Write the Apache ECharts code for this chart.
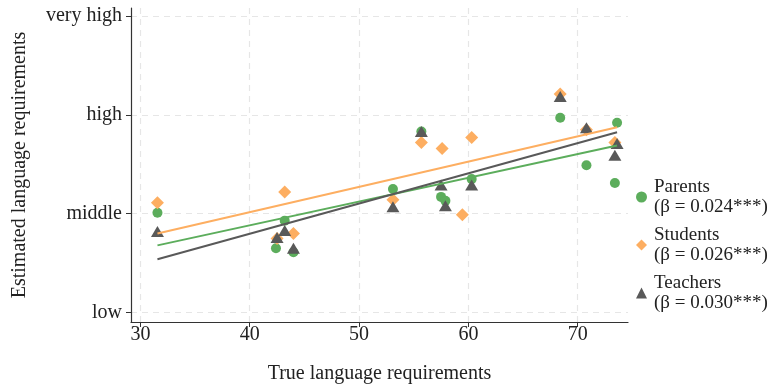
<!DOCTYPE html>
<html>
<head>
<meta charset="utf-8">
<script src="https://cdn.jsdelivr.net/npm/echarts@6/dist/echarts.min.js"></script>
<style>
  html, body { margin: 0; padding: 0; background: #fff; }
  #main { width: 774px; height: 386px; }
</style>
</head>
<body>
<div id="main"></div>
<script>
// 数据: [true requirement, estimated requirement]
var parents = [
  [31.56, 2.01], [42.4, 1.65], [43.2, 1.93], [44.0, 1.61], [53.1, 2.25],
  [55.7, 2.83], [57.5, 2.17], [57.9, 2.13], [60.3, 2.35], [68.4, 2.97],
  [70.8, 2.49], [73.6, 2.92], [73.4, 2.31]
];
var students = [
  [31.56, 2.11], [42.5, 1.75], [43.2, 2.22], [44.0, 1.80], [53.1, 2.14],
  [55.7, 2.72], [57.6, 2.66], [59.45, 1.99], [60.3, 2.77], [68.4, 3.21],
  [70.8, 2.85], [73.4, 2.72]
];
var teachers = [
  [31.56, 1.82], [42.5, 1.76], [43.2, 1.83], [44.0, 1.65], [53.1, 2.07],
  [55.7, 2.83], [57.5, 2.29], [57.9, 2.08], [60.3, 2.29], [68.4, 3.185],
  [70.8, 2.87], [73.6, 2.71], [73.4, 2.59]
];
// 拟合线端点
var fitX = [31.56, 73.6];
var fitParents = [1.68, 2.69];
var fitStudents = [1.80, 2.875];
var fitTeachers = [1.54, 2.824];

var groupNames = ["Parents", "Students", "Teachers"];
var betas = ["0.024***", "0.026***", "0.030***"];
var xTicks = [30, 40, 50, 60, 70];
var yTicks = [1, 2, 3, 4];
var yLabels = ["low", "middle", "high", "very high"];

var colGreen = "#5cad5c";
var colOrange = "#fdae61";
var colDark = "#595959";
var font = "Liberation Serif";

function fitLine(ys) {
  return fitX.map(function (x, i) { return [x, ys[i]]; });
}

var myChart = echarts.init(document.getElementById("main"));

var option = {
  animation: false,
  backgroundColor: "#fff",
  textStyle: { fontFamily: font },
  grid: { left: 131, right: 146, top: 8, bottom: 64, outerBoundsMode: "none", containLabel: false },
  legend: {
    orient: "vertical",
    left: 636,
    top: 177,
    padding: 0,
    itemWidth: 11,
    itemHeight: 11,
    itemGap: 8,
    data: [
      { name: "Parents", icon: "circle" },
      { name: "Students", icon: "diamond" },
      { name: "Teachers", icon: "triangle" }
    ],
    formatter: function (name) {
      return name + "\n(β = " + betas[groupNames.indexOf(name)] + ")";
    },
    textStyle: { fontFamily: font, fontSize: 19, lineHeight: 20, color: "#222", padding: [0, 0, 0, 2] }
  },
  xAxis: {
    type: "value",
    min: 29.14,
    max: 74.6,
    name: "True language requirements",
    nameLocation: "middle",
    nameGap: 42,
    nameTextStyle: { fontFamily: font, fontSize: 20, color: "#222" },
    axisLine: { show: true, onZero: false, lineStyle: { color: "#333", width: 1.2 } },
    axisTick: { show: true, length: 5, customValues: xTicks, lineStyle: { color: "#333" } },
    axisLabel: { customValues: xTicks, margin: 3, fontFamily: font, fontSize: 20, color: "#222" },
    splitLine: { show: true, lineStyle: { color: "#e6e6e6", type: [6, 5], width: 1.2 } }
  },
  yAxis: {
    type: "value",
    min: 0.905,
    max: 4.08,
    name: "Estimated language requirements",
    nameLocation: "middle",
    nameGap: 101,
    nameTextStyle: { fontFamily: font, fontSize: 20, color: "#222" },
    axisLine: { show: true, onZero: false, lineStyle: { color: "#333", width: 1.2 } },
    axisTick: { show: true, length: 5, customValues: yTicks, lineStyle: { color: "#333" } },
    axisLabel: {
      customValues: yTicks,
      margin: 9,
      fontFamily: font,
      fontSize: 20,
      color: "#222",
      formatter: function (v) { return yLabels[yTicks.indexOf(Math.round(v))]; }
    },
    splitLine: { show: true, lineStyle: { color: "#e6e6e6", type: [6, 5], width: 1.2 } }
  },
  series: [
    {
      name: "Parents", type: "scatter", symbol: "circle", symbolSize: 10, z: 2,
      itemStyle: { color: colGreen, opacity: 1 }, data: parents
    },
    {
      name: "Students", type: "scatter", symbol: "diamond", symbolSize: 13, z: 3,
      itemStyle: { color: colOrange, opacity: 1 }, data: students
    },
    {
      name: "Teachers", type: "scatter", symbol: "triangle", symbolSize: [13, 11], z: 4,
      itemStyle: { color: colDark, opacity: 1 }, data: teachers
    },
    {
      name: "Parents fit", type: "line", showSymbol: false, z: 5,
      lineStyle: { color: colGreen, width: 2 }, data: fitLine(fitParents)
    },
    {
      name: "Students fit", type: "line", showSymbol: false, z: 5,
      lineStyle: { color: colOrange, width: 2 }, data: fitLine(fitStudents)
    },
    {
      name: "Teachers fit", type: "line", showSymbol: false, z: 5,
      lineStyle: { color: colDark, width: 2 }, data: fitLine(fitTeachers)
    }
  ]
};

myChart.setOption(option);
</script>
</body>
</html>
